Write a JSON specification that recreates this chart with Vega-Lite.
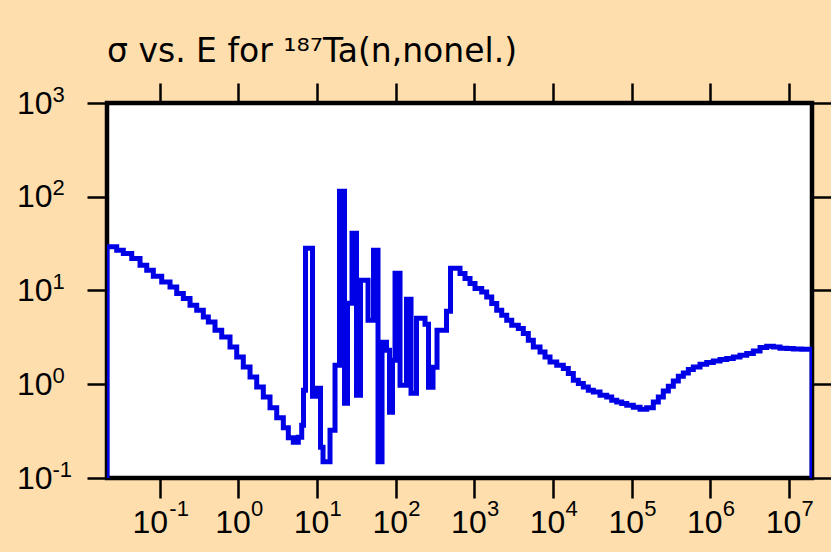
{
  "$schema": "https://vega.github.io/schema/vega-lite/v6.json",
  "width": 705,
  "height": 375,
  "autosize": {"type": "none"},
  "padding": {"left": 107, "top": 103, "right": 19, "bottom": 74},
  "background": "#FFDEAD",
  "title": {
    "text": "σ vs. E for ¹⁸⁷Ta(n,nonel.)",
    "anchor": "start",
    "frame": "group",
    "font": "DejaVu Sans",
    "fontSize": 33,
    "fontWeight": "normal",
    "color": "black",
    "baseline": "alphabetic",
    "offset": 21,
    "dy": 34
  },
  "config": {
    "view": {"fill": "white", "stroke": "black", "strokeWidth": 4.5},
    "axis": {
      "domain": false,
      "grid": false,
      "ticks": true,
      "tickSize": 20,
      "tickWidth": 2.5,
      "tickColor": "black",
      "labelFont": "Liberation Sans",
      "labelFontSize": 32,
      "labelColor": "black",
      "labelOverlap": false,
      "labelFlush": false,
      "title": null
    }
  },
  "data": {
    "values": [
      {"E": 0.0213, "s": 0.1},
      {"E": 0.02131, "s": 29.3},
      {"E": 0.02831, "s": 26.9},
      {"E": 0.03435, "s": 24.8},
      {"E": 0.04393, "s": 21.9},
      {"E": 0.05601, "s": 18.6},
      {"E": 0.06815, "s": 16.4},
      {"E": 0.08267, "s": 14.2},
      {"E": 0.1057, "s": 12.3},
      {"E": 0.1348, "s": 10.9},
      {"E": 0.164, "s": 9.28},
      {"E": 0.199, "s": 8.21},
      {"E": 0.2421, "s": 6.96},
      {"E": 0.2945, "s": 6.16},
      {"E": 0.3573, "s": 5.22},
      {"E": 0.4137, "s": 4.62},
      {"E": 0.5032, "s": 3.77},
      {"E": 0.6124, "s": 3.2},
      {"E": 0.7806, "s": 2.5},
      {"E": 0.95, "s": 1.955},
      {"E": 1.152, "s": 1.53},
      {"E": 1.403, "s": 1.196},
      {"E": 1.706, "s": 0.936},
      {"E": 2.07, "s": 0.732},
      {"E": 2.518, "s": 0.561},
      {"E": 3.064, "s": 0.439},
      {"E": 3.718, "s": 0.344},
      {"E": 4.303, "s": 0.269},
      {"E": 4.982, "s": 0.241},
      {"E": 5.768, "s": 0.272},
      {"E": 6.372, "s": 0.365},
      {"E": 6.716, "s": 0.863},
      {"E": 7.12, "s": 28.2},
      {"E": 8.74, "s": 0.745},
      {"E": 9.97, "s": 0.906},
      {"E": 11.05, "s": 0.213},
      {"E": 11.89, "s": 0.149},
      {"E": 14.59, "s": 0.323},
      {"E": 16.89, "s": 1.595},
      {"E": 19.27, "s": 114.5},
      {"E": 22.31, "s": 0.627},
      {"E": 24.35, "s": 7.31},
      {"E": 27.78, "s": 40.8},
      {"E": 31.7, "s": 0.763},
      {"E": 35.63, "s": 12.86},
      {"E": 44.38, "s": 4.82},
      {"E": 52.14, "s": 26.9},
      {"E": 59.47, "s": 0.149},
      {"E": 66.88, "s": 2.81},
      {"E": 76.27, "s": 2.306},
      {"E": 83.27, "s": 0.503},
      {"E": 90.93, "s": 1.803},
      {"E": 97.84, "s": 15.28},
      {"E": 113.3, "s": 0.976},
      {"E": 136.9, "s": 8.07},
      {"E": 156.3, "s": 0.802},
      {"E": 183.5, "s": 5.06},
      {"E": 235.5, "s": 4.365},
      {"E": 260.9, "s": 0.929},
      {"E": 297.6, "s": 1.518},
      {"E": 334.6, "s": 3.77},
      {"E": 441.8, "s": 6.01},
      {"E": 496.7, "s": 17.27},
      {"E": 656.1, "s": 15.17},
      {"E": 759.5, "s": 13.41},
      {"E": 879.4, "s": 11.86},
      {"E": 1018, "s": 10.49},
      {"E": 1238, "s": 9.65},
      {"E": 1433, "s": 8.54},
      {"E": 1660, "s": 7.26},
      {"E": 1921, "s": 6.16},
      {"E": 2224, "s": 5.445},
      {"E": 2575, "s": 4.817},
      {"E": 2981, "s": 4.259},
      {"E": 3615, "s": 3.928},
      {"E": 4185, "s": 3.474},
      {"E": 4845, "s": 2.947},
      {"E": 5610, "s": 2.5},
      {"E": 6826, "s": 2.211},
      {"E": 7903, "s": 1.955},
      {"E": 9147, "s": 1.729},
      {"E": 11130, "s": 1.595},
      {"E": 13500, "s": 1.471},
      {"E": 15630, "s": 1.3},
      {"E": 18090, "s": 1.103},
      {"E": 20950, "s": 1.017},
      {"E": 24240, "s": 0.936},
      {"E": 28070, "s": 0.863},
      {"E": 32500, "s": 0.828},
      {"E": 39540, "s": 0.763},
      {"E": 48100, "s": 0.732},
      {"E": 55680, "s": 0.675},
      {"E": 64470, "s": 0.647},
      {"E": 74650, "s": 0.622},
      {"E": 86400, "s": 0.597},
      {"E": 104800, "s": 0.568},
      {"E": 127500, "s": 0.541},
      {"E": 155100, "s": 0.561},
      {"E": 188200, "s": 0.647},
      {"E": 217900, "s": 0.732},
      {"E": 252200, "s": 0.848},
      {"E": 292100, "s": 0.952},
      {"E": 338100, "s": 1.084},
      {"E": 391300, "s": 1.217},
      {"E": 453100, "s": 1.32},
      {"E": 524400, "s": 1.435},
      {"E": 607000, "s": 1.529},
      {"E": 738600, "s": 1.634},
      {"E": 898700, "s": 1.704},
      {"E": 1090000, "s": 1.772},
      {"E": 1327000, "s": 1.834},
      {"E": 1614000, "s": 1.88},
      {"E": 1958000, "s": 1.955},
      {"E": 2382000, "s": 2.039},
      {"E": 2899000, "s": 2.126},
      {"E": 3517000, "s": 2.266},
      {"E": 4279000, "s": 2.463},
      {"E": 5206000, "s": 2.543},
      {"E": 6317000, "s": 2.5},
      {"E": 7685000, "s": 2.421},
      {"E": 9350000, "s": 2.403},
      {"E": 11340000, "s": 2.38},
      {"E": 14510000, "s": 2.362},
      {"E": 18490000, "s": 2.36},
      {"E": 19600000, "s": 0.1}
    ]
  },
  "layer": [
    {
      "mark": {"type": "line", "interpolate": "step-after", "color": "#0000e6", "strokeWidth": 5, "strokeJoin": "miter", "clip": true},
      "encoding": {
        "x": {
          "field": "E", "type": "quantitative",
          "scale": {"type": "log", "domain": [0.0213, 19600000]},
          "axis": {
            "orient": "bottom",
            "values": [0.1, 1, 10, 100, 1000, 10000, 100000, 1000000, 10000000],
            "labelExpr": "'10'",
            "labelBaseline": "alphabetic",
            "labelPadding": 34.5,
            "labelAlign": "center",
            "labelOffset": {"condition": {"test": "datum.value < 0.5", "value": -10}, "value": -6}
          }
        },
        "y": {
          "field": "s", "type": "quantitative",
          "scale": {"type": "log", "domain": [0.1, 1000]},
          "axis": {
            "orient": "left",
            "values": [0.1, 1, 10, 100, 1000],
            "labelExpr": "'10'",
            "labelAlign": "right",
            "labelBaseline": "middle",
            "labelPadding": 35
          }
        }
      }
    },
    {
      "mark": {"type": "line", "opacity": 0},
      "encoding": {
        "x": {
          "field": "E", "type": "quantitative",
          "scale": {"type": "log", "domain": [0.0213, 19600000]},
          "axis": {"orient": "top", "values": [0.1, 1, 10, 100, 1000, 10000, 100000, 1000000, 10000000], "labels": false}
        },
        "y": {
          "field": "s", "type": "quantitative",
          "scale": {"type": "log", "domain": [0.1, 1000]},
          "axis": {"orient": "right", "values": [0.1, 1, 10, 100, 1000], "labels": false}
        }
      }
    },
    {
      "mark": {"type": "line", "opacity": 0},
      "encoding": {
        "x": {
          "field": "E", "type": "quantitative",
          "scale": {"type": "log", "domain": [0.0213, 19600000]},
          "axis": {
            "orient": "bottom",
            "values": [0.1, 1, 10, 100, 1000, 10000, 100000, 1000000, 10000000],
            "labelExpr": "'' + round(log(datum.value)/LN10)",
            "tickOpacity": 0,
            "labelFontSize": 22,
            "labelBaseline": "alphabetic",
            "labelAlign": "left",
            "labelPadding": 17,
            "labelOffset": {"condition": {"test": "datum.value < 0.5", "value": 9}, "value": 12}
          }
        },
        "y": {
          "field": "s", "type": "quantitative",
          "scale": {"type": "log", "domain": [0.1, 1000]},
          "axis": {
            "orient": "left",
            "values": [0.1, 1, 10, 100, 1000],
            "labelExpr": "'' + round(log(datum.value)/LN10)",
            "tickOpacity": 0,
            "labelFontSize": 22,
            "labelBaseline": "alphabetic",
            "labelAlign": "left",
            "labelPadding": 35,
            "labelOffset": -2
          }
        }
      }
    }
  ],
  "resolve": {"axis": {"x": "independent", "y": "independent"}}
}
